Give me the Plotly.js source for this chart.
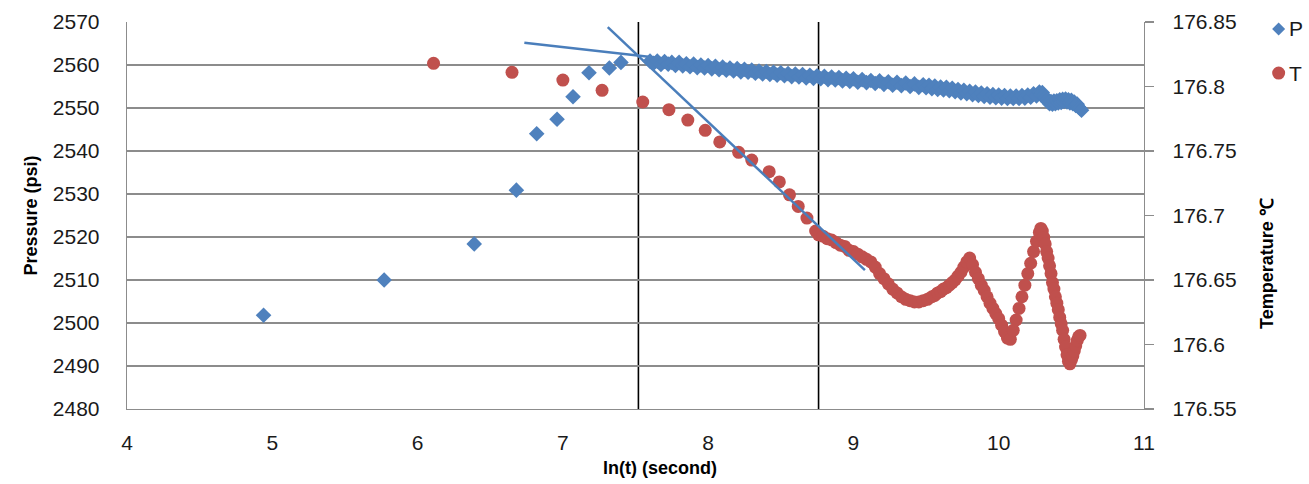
<!DOCTYPE html>
<html>
<head>
<meta charset="utf-8">
<script src="https://cdn.plot.ly/plotly-3.0.1.min.js"></script>
<style>html,body{margin:0;padding:0;background:#fff;}#chart{width:1309px;height:484px;}</style>
</head>
<body>
<div id="chart"></div>
<script>
// Pressure P (psi) vs ln(t)
const pX = [4.94, 5.77, 6.39, 6.68, 6.82, 6.96, 7.07, 7.18, 7.32, 7.40,
  7.600, 7.625, 7.650, 7.675, 7.700, 7.725, 7.750, 7.775, 7.800, 7.825, 7.850, 7.875, 7.900, 7.925, 7.950, 7.975,
  8.000, 8.025, 8.050, 8.075, 8.100, 8.125, 8.150, 8.175, 8.200, 8.225, 8.250, 8.275, 8.300, 8.325, 8.350, 8.375,
  8.400, 8.425, 8.450, 8.475, 8.500, 8.525, 8.550, 8.575, 8.600, 8.625, 8.650, 8.675, 8.700, 8.725, 8.750, 8.775,
  8.800, 8.825, 8.850, 8.875, 8.900, 8.925, 8.950, 8.975, 9.000,
  9.03, 9.06, 9.09, 9.12, 9.15, 9.18, 9.21, 9.24, 9.27, 9.30, 9.33, 9.36, 9.39, 9.42, 9.45, 9.48,
  9.50, 9.52, 9.54, 9.56, 9.58, 9.60, 9.62, 9.64, 9.66, 9.68, 9.70, 9.72, 9.74, 9.76, 9.78, 9.80, 9.82, 9.84, 9.86, 9.88,
  9.90, 9.92, 9.94, 9.96, 9.98, 10.00, 10.02, 10.04, 10.06, 10.08, 10.10, 10.12, 10.14, 10.16, 10.18, 10.20, 10.22, 10.24,
  10.26, 10.28, 10.29, 10.30, 10.31, 10.32, 10.33, 10.34, 10.35, 10.36, 10.37, 10.38, 10.39, 10.40, 10.41, 10.42, 10.43,
  10.44, 10.45, 10.46, 10.47, 10.48, 10.49, 10.50, 10.51, 10.52, 10.53, 10.54, 10.55, 10.56, 10.57];
const pY = [2501.8, 2510.0, 2518.4, 2530.9, 2544.0, 2547.4, 2552.6, 2558.2, 2559.3, 2560.6,
  2560.9, 2560.4, 2560.9, 2560.1, 2560.8, 2560.2, 2560.6, 2559.9, 2560.6, 2559.8, 2560.3, 2559.6, 2560.2, 2559.4, 2560.0, 2559.3,
  2559.9, 2559.1, 2559.7, 2558.9, 2559.5, 2558.8, 2559.3, 2558.6, 2559.2, 2558.4, 2559.0, 2558.3, 2558.8, 2558.1, 2558.6, 2557.9,
  2558.5, 2557.8, 2558.3, 2557.6, 2558.2, 2557.5, 2558.0, 2557.3, 2557.9, 2557.2, 2557.8, 2557.0, 2557.6, 2556.9, 2557.5, 2556.8,
  2557.4, 2556.6, 2557.2, 2556.5, 2557.1, 2556.3, 2556.9, 2556.2, 2556.8,
  2556.0, 2556.6, 2555.9, 2556.4, 2555.7, 2556.3, 2555.5, 2556.1, 2555.3, 2556.0, 2555.2, 2555.8, 2555.0, 2555.6, 2554.8, 2555.4,
  2554.7, 2555.3, 2554.5, 2555.1, 2554.3, 2554.9, 2554.2, 2554.8, 2554.0, 2554.6, 2553.8, 2554.3, 2553.5, 2554.1, 2553.3, 2553.9, 2553.1, 2553.7, 2552.9, 2553.5,
  2552.7, 2553.3, 2552.5, 2553.1, 2552.4, 2553.0, 2552.3, 2552.9, 2552.2, 2552.8, 2552.2, 2552.8, 2552.2, 2552.9, 2552.3, 2553.0, 2552.5, 2553.3,
  2552.8, 2553.7, 2553.1, 2553.6, 2552.9, 2552.3, 2551.8, 2551.4, 2551.0, 2551.5, 2550.9, 2551.6, 2551.0, 2551.7, 2551.2, 2551.9, 2551.3,
  2552.0, 2551.5, 2552.1, 2551.4, 2551.9, 2551.2, 2551.8, 2551.0, 2551.4, 2550.6, 2550.9, 2550.2, 2549.9, 2549.5];

// Temperature T (°C) vs ln(t)
const tX = [6.11, 6.65, 7.00, 7.27, 7.55, 7.73, 7.86, 7.98, 8.08, 8.21, 8.30, 8.42, 8.49, 8.56, 8.62, 8.68, 8.74, 8.76,
  8.79, 8.82, 8.85, 8.88, 8.91, 8.94, 8.97, 9.00, 9.03, 9.06, 9.09, 9.12, 9.15, 9.18, 9.21, 9.24, 9.27, 9.30, 9.33, 9.36,
  9.39, 9.42, 9.45, 9.48, 9.51, 9.54, 9.56, 9.58, 9.60, 9.62, 9.64, 9.66, 9.68, 9.70, 9.72, 9.74, 9.76, 9.78, 9.80,
  9.82, 9.84, 9.86, 9.88, 9.90, 9.92, 9.94, 9.96, 9.98, 10.00, 10.02, 10.04, 10.06, 10.08, 10.10, 10.12, 10.14, 10.16,
  10.18, 10.20, 10.22, 10.24, 10.26, 10.28, 10.29, 10.30, 10.31, 10.32, 10.33, 10.34, 10.35, 10.36, 10.37, 10.38, 10.39,
  10.40, 10.41, 10.42, 10.43, 10.44, 10.45, 10.46, 10.47, 10.48, 10.49, 10.50, 10.51, 10.52, 10.53, 10.54, 10.55, 10.56];
const tY = [176.818, 176.811, 176.805, 176.797, 176.788, 176.782, 176.774, 176.766, 176.757, 176.749, 176.743, 176.734, 176.726, 176.716, 176.707, 176.698, 176.688, 176.685,
  176.684, 176.682, 176.681, 176.679, 176.677, 176.676, 176.673, 176.672, 176.670, 176.668, 176.666, 176.664, 176.660, 176.655, 176.651, 176.647, 176.643, 176.640, 176.637, 176.635,
  176.634, 176.633, 176.633, 176.634, 176.635, 176.637, 176.638, 176.640, 176.641, 176.643, 176.644, 176.646, 176.648, 176.650, 176.653, 176.656, 176.660, 176.664, 176.667,
  176.662, 176.656, 176.651, 176.646, 176.642, 176.637, 176.632, 176.628, 176.624, 176.620, 176.615, 176.610, 176.605, 176.604, 176.611, 176.619, 176.628, 176.637,
  176.646, 176.655, 176.663, 176.672, 176.680, 176.687, 176.690, 176.688, 176.683, 176.678, 176.672, 176.667, 176.661, 176.655, 176.648, 176.643, 176.637,
  176.632, 176.627, 176.621, 176.616, 176.611, 176.604, 176.598, 176.592, 176.587, 176.585, 176.588, 176.591, 176.595, 176.599, 176.603, 176.606, 176.607];

// Hand-drawn trend lines (psi)
const trendShallowX = [6.735, 8.5];
const trendShallowY = [2565.2, 2558.45];
const trendSteepX = [7.309, 9.079];
const trendSteepY = [2568.8, 2512.3];

// Vertical marker lines
const vLinesX = [7.52, 8.76];

// Tick labels
const xTicks = [4, 5, 6, 7, 8, 9, 10, 11];
const pTicks = [2480, 2490, 2500, 2510, 2520, 2530, 2540, 2550, 2560, 2570];
const tTicks = [176.55, 176.6, 176.65, 176.7, 176.75, 176.8, 176.85];

// Legend entries
const legendNames = ['P', 'T'];

const blue = '#4F81BD', red = '#C0504D', grid = '#8C8C8C';
const FONT = '"Liberation Sans", Arial, sans-serif';

const traces = [
  {x: tX, y: tY, xaxis: 'x', yaxis: 'y', type: 'scatter', mode: 'markers', name: 'T',
   marker: {symbol: 'circle', size: 13, color: red}},
  {x: trendShallowX, y: trendShallowY, xaxis: 'x', yaxis: 'y2', type: 'scatter', mode: 'lines',
   line: {color: '#4A7EBB', width: 2.5}},
  {x: trendSteepX, y: trendSteepY, xaxis: 'x', yaxis: 'y2', type: 'scatter', mode: 'lines',
   line: {color: '#4A7EBB', width: 2.5}},
  {x: pX, y: pY, xaxis: 'x', yaxis: 'y2', type: 'scatter', mode: 'markers', name: 'P',
   marker: {symbol: 'diamond', size: 12, color: blue}}
];

// manual legend (kept inside the right margin)
const legX = 1.1324, legTextX = 1.1405;
const legY = [0.982, 0.868];
const legendShapes = [
  {type: 'path', xref: 'paper', yref: 'paper', xsizemode: 'pixel', ysizemode: 'pixel',
   xanchor: legX, yanchor: legY[0], path: 'M -6.5 0 L 0 6.5 L 6.5 0 L 0 -6.5 Z',
   fillcolor: blue, line: {width: 0}},
  {type: 'circle', xref: 'paper', yref: 'paper', xsizemode: 'pixel', ysizemode: 'pixel',
   xanchor: legX, yanchor: legY[1], x0: -6.5, x1: 6.5, y0: -6.5, y1: 6.5,
   fillcolor: red, line: {width: 0}}
];

const layout = {
  width: 1309, height: 484,
  margin: {l: 127, r: 165, t: 22, b: 75},
  paper_bgcolor: '#fff', plot_bgcolor: '#fff',
  font: {family: FONT, size: 21, color: '#1a1a1a'},
  showlegend: false,
  xaxis: {range: [4, 11], tickvals: xTicks, ticktext: xTicks.map(String), showgrid: false, zeroline: false,
          showline: true, linecolor: grid, linewidth: 1.3, ticks: '', ticklabelstandoff: 14,
          tickfont: {size: 21}},
  yaxis: {range: [176.55, 176.85], tickvals: tTicks, ticktext: tTicks.map(String), side: 'right',
          showgrid: false, zeroline: false, showline: true, linecolor: grid, linewidth: 1.3,
          ticks: 'outside', ticklen: 9, tickcolor: grid, tickwidth: 1.3, ticklabelstandoff: 14,
          tickfont: {size: 21}},
  yaxis2: {range: [2480, 2570], tickvals: pTicks, ticktext: pTicks.map(String), side: 'left', overlaying: 'y',
           showgrid: true, gridcolor: grid, gridwidth: 1.3, zeroline: false, showline: true,
           linecolor: grid, linewidth: 1.3, ticks: '', ticklabelstandoff: 22, tickfont: {size: 21}},
  shapes: vLinesX.map(v => ({type: 'line', xref: 'x', yref: 'paper', x0: v, x1: v, y0: 0, y1: 1,
                               layer: 'below', line: {color: '#000', width: 1.6}})).concat(legendShapes),
  annotations: [
    {text: '<b>Pressure (psi)</b>', xref: 'paper', yref: 'paper', x: -0.0953, y: 0.50,
     xanchor: 'center', yanchor: 'middle', textangle: -90, showarrow: false, font: {size: 18, color: '#000'}},
    {text: '<b>ln(t) (second)</b>', xref: 'paper', yref: 'paper', x: 0.524, y: -0.152,
     xanchor: 'center', yanchor: 'middle', showarrow: false, font: {size: 18, color: '#000'}},
    {text: '<b>Temperature ℃</b>', xref: 'paper', yref: 'paper', x: 1.121, y: 0.375,
     xanchor: 'center', yanchor: 'middle', textangle: -90, showarrow: false, font: {size: 18, color: '#000'}},
    {text: legendNames[0], xref: 'paper', yref: 'paper', x: legTextX, y: legY[0], xanchor: 'left', yanchor: 'middle',
     showarrow: false, font: {size: 21, color: '#1a1a1a'}},
    {text: legendNames[1], xref: 'paper', yref: 'paper', x: legTextX, y: legY[1], xanchor: 'left', yanchor: 'middle',
     showarrow: false, font: {size: 21, color: '#1a1a1a'}}
  ]
};

Plotly.newPlot('chart', traces, layout, {displayModeBar: false, staticPlot: true});
</script>
</body>
</html>
